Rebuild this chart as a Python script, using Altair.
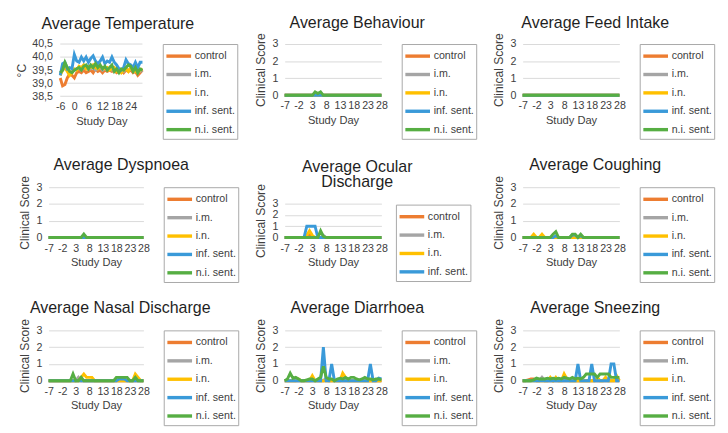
import altair as alt
import pandas as pd

FONT = "Liberation Sans"
SERIES = ["control", "i.m.", "i.n.", "inf. sent.", "n.i. sent."]
COLORS = ["#ED7D31", "#A5A5A5", "#FFC000", "#3A9AD9", "#56AE43"]

TEMP_DAYS = list(range(-6, 30))
SCORE_DAYS = list(range(-7, 29))
TEMP_XTICKS = [-6, 0, 6, 12, 18, 24]
SCORE_XTICKS = [-7, -2, 3, 8, 13, 18, 23, 28]
TEMP_YTICKS = [38.5, 39.0, 39.5, 40.0, 40.5]
SCORE_YTICKS = [0, 1, 2, 3]

# ---------------- Temperature (days -6 .. 29) ----------------
temp_control = [39.2, 38.9, 38.95, 39.2, 39.35, 39.3, 39.2, 39.4, 39.45, 39.4, 39.5, 39.4,
                39.45, 39.5, 39.4, 39.55, 39.45, 39.5, 39.4, 39.5, 39.45, 39.5, 39.45, 39.5,
                39.4, 39.45, 39.5, 39.4, 39.5, 39.45, 39.5, 39.4, 39.45, 39.3, 39.4, 39.5]
temp_im = [39.35, 39.55, 39.6, 39.5, 39.4, 39.45, 39.5, 39.55, 39.6, 39.5, 39.6, 39.55,
           39.6, 39.55, 39.6, 39.5, 39.55, 39.6, 39.5, 39.55, 39.5, 39.55, 39.5, 39.55,
           39.5, 39.45, 39.5, 39.45, 39.55, 39.5, 39.55, 39.5, 39.45, 39.5, 39.45, 39.5]
temp_in = [39.3, 39.5, 39.6, 39.45, 39.3, 39.4, 39.55, 39.5, 39.65, 39.6, 39.7, 39.55,
           39.65, 39.6, 39.7, 39.6, 39.55, 39.65, 39.6, 39.55, 39.6, 39.5, 39.55, 39.6,
           39.45, 39.5, 39.4, 39.5, 39.55, 39.45, 39.6, 39.5, 39.45, 39.4, 39.5, 39.55]
temp_inf = [39.3, 39.75, 39.8, 39.55, 39.6, 39.55, 40.1, 39.85, 39.8, 40.0, 39.85, 40.0,
            39.8, 39.95, 40.05, 39.85, 39.75, 39.85, 40.0, 39.75, 39.85, 39.8, 40.0, 39.8,
            39.7, 39.55, 39.5, 39.6, 39.9, 39.75, 39.7, 39.6, 39.8, 39.6, 39.8, 39.8]
temp_ni = [39.4, 39.5, 39.8, 39.6, 39.45, 39.4, 39.5, 39.55, 39.6, 39.5, 39.65, 39.7,
           39.55, 39.7, 39.6, 39.75, 39.6, 39.7, 39.55, 39.65, 39.5, 39.6, 39.7, 39.45,
           39.55, 39.4, 39.55, 39.5, 39.6, 39.7, 39.65, 39.45, 39.6, 39.4, 39.55, 39.5]

# ---------------- Clinical scores (days -7 .. 28) ----------------
# rows of 9: days -7..1 | 2..10 | 11..19 | 20..28
beh_control = [0, 0, 0, 0, 0, 0, 0, 0, 0,  0, 0, 0, 0, 0, 0, 0, 0, 0,  0, 0, 0, 0, 0, 0, 0, 0, 0,  0, 0, 0, 0, 0, 0, 0, 0, 0]
beh_im = [0, 0, 0, 0, 0, 0, 0, 0, 0,  0, 0, 0, 0, 0, 0, 0, 0, 0,  0, 0, 0, 0, 0, 0, 0, 0, 0,  0, 0, 0, 0, 0, 0, 0, 0, 0]
beh_in = [0, 0, 0, 0, 0, 0, 0, 0, 0,  0, 0, 0, 0, 0, 0, 0, 0, 0,  0, 0, 0, 0, 0, 0, 0, 0, 0,  0, 0, 0, 0, 0, 0, 0, 0, 0]
beh_inf = [0, 0, 0, 0, 0, 0, 0, 0, 0,  0, 0, 0, 0, 0, 0, 0, 0, 0,  0, 0, 0, 0, 0, 0, 0, 0, 0,  0, 0, 0, 0, 0, 0, 0, 0, 0]
beh_ni = [0, 0, 0, 0, 0, 0, 0, 0, 0,  0, 0, 0.2, 0.1, 0.2, 0, 0, 0, 0,  0, 0, 0, 0, 0, 0, 0, 0, 0,  0, 0, 0, 0, 0, 0, 0, 0, 0]

feed_control = [0, 0, 0, 0, 0, 0, 0, 0, 0,  0, 0, 0, 0, 0, 0, 0, 0, 0,  0, 0, 0, 0, 0, 0, 0, 0, 0,  0, 0, 0, 0, 0, 0, 0, 0, 0]
feed_im = [0, 0, 0, 0, 0, 0, 0, 0, 0,  0, 0, 0, 0, 0, 0, 0, 0, 0,  0, 0, 0, 0, 0, 0, 0, 0, 0,  0, 0, 0, 0, 0, 0, 0, 0, 0]
feed_in = [0, 0, 0, 0, 0, 0, 0, 0, 0,  0, 0, 0, 0, 0, 0, 0, 0, 0,  0, 0, 0, 0, 0, 0, 0, 0, 0,  0, 0, 0, 0, 0, 0, 0, 0, 0]
feed_inf = [0, 0, 0, 0, 0, 0, 0, 0, 0,  0, 0, 0, 0, 0, 0, 0, 0, 0,  0, 0, 0, 0, 0, 0, 0, 0, 0,  0, 0, 0, 0, 0, 0, 0, 0, 0]
feed_ni = [0, 0, 0, 0, 0, 0, 0, 0, 0,  0, 0, 0, 0, 0, 0, 0, 0, 0,  0, 0, 0, 0, 0, 0, 0, 0, 0,  0, 0, 0, 0, 0, 0, 0, 0, 0]

dys_control = [0, 0, 0, 0, 0, 0, 0, 0, 0,  0, 0, 0, 0, 0, 0, 0, 0, 0,  0, 0, 0, 0, 0, 0, 0, 0, 0,  0, 0, 0, 0, 0, 0, 0, 0, 0]
dys_im = [0, 0, 0, 0, 0, 0, 0, 0, 0,  0, 0, 0, 0, 0, 0, 0, 0, 0,  0, 0, 0, 0, 0, 0, 0, 0, 0,  0, 0, 0, 0, 0, 0, 0, 0, 0]
dys_in = [0, 0, 0, 0, 0, 0, 0, 0, 0,  0, 0, 0, 0, 0, 0, 0, 0, 0,  0, 0, 0, 0, 0, 0, 0, 0, 0,  0, 0, 0, 0, 0, 0, 0, 0, 0]
dys_inf = [0, 0, 0, 0, 0, 0, 0, 0, 0,  0, 0, 0, 0, 0, 0, 0, 0, 0,  0, 0, 0, 0, 0, 0, 0, 0, 0,  0, 0, 0, 0, 0, 0, 0, 0, 0]
dys_ni = [0, 0, 0, 0, 0, 0, 0, 0, 0,  0, 0, 0, 0, 0.2, 0, 0, 0, 0,  0, 0, 0, 0, 0, 0, 0, 0, 0,  0, 0, 0, 0, 0, 0, 0, 0, 0]

ocu_control = [0, 0, 0, 0, 0, 0, 0, 0, 0,  0.25, 0, 0, 0, 0, 0, 0, 0, 0,  0, 0, 0, 0, 0, 0, 0, 0, 0,  0, 0, 0, 0, 0, 0, 0, 0, 0]
ocu_im = [0, 0, 0, 0, 0, 0, 0, 0, 0,  0, 0, 0, 0, 0, 0.2, 0, 0, 0,  0, 0, 0, 0, 0, 0, 0, 0, 0,  0, 0, 0, 0, 0, 0, 0, 0, 0]
ocu_in = [0, 0, 0, 0, 0, 0, 0, 0, 0.2,  0.6, 0.2, 0, 0, 0, 0, 0, 0, 0,  0, 0, 0, 0, 0, 0, 0, 0, 0,  0, 0, 0, 0, 0, 0, 0, 0, 0]
ocu_inf = [0, 0, 0, 0, 0, 0, 0, 0, 1.0,  1.0, 1.0, 1.0, 0, 0, 0, 0, 0, 0,  0, 0, 0, 0, 0, 0, 0, 0, 0,  0, 0, 0, 0, 0, 0, 0, 0, 0]
ocu_ni = [0, 0, 0, 0, 0, 0, 0, 0, 0,  0, 0, 0, 0, 0.6, 0.1, 0, 0, 0,  0, 0, 0, 0, 0, 0, 0, 0, 0,  0, 0, 0, 0, 0, 0, 0, 0, 0]

cou_control = [0, 0, 0, 0, 0, 0, 0, 0, 0,  0, 0, 0, 0, 0, 0, 0, 0, 0,  0, 0, 0, 0, 0, 0, 0, 0, 0,  0, 0, 0, 0, 0, 0, 0, 0, 0]
cou_im = [0, 0, 0, 0, 0, 0, 0, 0, 0,  0, 0, 0, 0, 0, 0, 0, 0, 0,  0, 0, 0, 0, 0, 0, 0, 0, 0,  0, 0, 0, 0, 0, 0, 0, 0, 0]
cou_in = [0, 0, 0, 0, 0.2, 0, 0, 0.2, 0,  0, 0, 0, 0, 0, 0, 0, 0, 0,  0, 0, 0, 0, 0, 0, 0, 0, 0,  0, 0, 0, 0, 0, 0, 0, 0, 0]
cou_inf = [0, 0, 0, 0, 0, 0, 0, 0, 0,  0, 0, 0, 0.1, 0, 0, 0, 0, 0,  0.15, 0.15, 0, 0.1, 0, 0, 0, 0, 0,  0, 0, 0, 0, 0, 0, 0, 0, 0]
cou_ni = [0, 0, 0, 0, 0, 0, 0, 0, 0,  0, 0, 0.2, 0.35, 0, 0, 0, 0, 0,  0.2, 0.2, 0, 0.2, 0, 0, 0, 0, 0,  0, 0, 0, 0, 0, 0, 0, 0, 0]

nas_control = [0, 0, 0, 0, 0, 0, 0, 0, 0,  0, 0, 0, 0, 0, 0, 0, 0, 0,  0, 0, 0, 0, 0, 0, 0, 0, 0,  0, 0, 0, 0, 0, 0, 0, 0, 0]
nas_im = [0, 0, 0, 0, 0, 0, 0, 0, 0,  0, 0, 0.2, 0, 0, 0, 0, 0, 0,  0, 0, 0, 0, 0, 0, 0, 0, 0,  0, 0, 0, 0, 0, 0, 0, 0, 0]
nas_in = [0, 0, 0, 0, 0, 0, 0, 0, 0,  0, 0, 0, 0.2, 0.4, 0.2, 0.2, 0.2, 0,  0, 0, 0, 0, 0, 0, 0, 0, 0,  0, 0, 0, 0, 0, 0.4, 0.2, 0, 0]
nas_inf = [0, 0, 0, 0, 0, 0, 0, 0, 0,  0, 0, 0, 0, 0, 0, 0, 0, 0,  0, 0, 0, 0, 0, 0, 0, 0, 0.1,  0.1, 0.1, 0, 0, 0, 0, 0, 0, 0]
nas_ni = [0, 0, 0, 0, 0, 0, 0, 0, 0,  0.4, 0, 0, 0.2, 0, 0, 0, 0, 0,  0, 0, 0, 0, 0, 0, 0, 0.2, 0.2,  0.2, 0.2, 0.2, 0, 0, 0.2, 0, 0, 0]

dia_control = [0, 0, 0, 0, 0, 0, 0, 0, 0,  0, 0, 0, 0, 0, 0, 0, 0, 0,  0, 0, 0, 0, 0, 0, 0, 0, 0,  0, 0, 0, 0, 0, 0, 0, 0, 0]
dia_im = [0, 0, 0, 0, 0, 0, 0, 0, 0,  0, 0, 0, 0, 0, 0, 0.15, 0, 0,  0, 0, 0, 0, 0, 0, 0, 0, 0,  0, 0, 0, 0, 0, 0, 0, 0, 0]
dia_in = [0, 0, 0, 0, 0, 0.1, 0, 0, 0,  0, 0.3, 0, 0, 0, 0, 0, 0, 0,  0, 0, 0, 0.45, 0.2, 0, 0, 0, 0,  0, 0, 0, 0, 0, 0, 0, 0, 0]
dia_inf = [0, 0, 0, 0, 0, 0, 0, 0, 0,  0, 0, 0, 0, 0, 2.0, 0, 0, 1.0,  0, 0, 0, 0, 0, 0, 0, 0, 0,  0, 0, 0, 0, 1.0, 0, 0, 0.15, 0.1]
dia_ni = [0, 0.1, 0.45, 0.15, 0.2, 0.1, 0, 0, 0.05,  0.1, 0.1, 0, 0.1, 0.2, 0.85, 0.2, 0.1, 0.1,
          0, 0.1, 0.15, 0.1, 0.2, 0.1, 0.2, 0.2, 0.1,  0.05, 0.1, 0.2, 0.1, 0.1, 0.05, 0.1, 0.1, 0.05]

sne_control = [0, 0, 0.05, 0.1, 0.1, 0, 0, 0, 0,  0, 0, 0, 0, 0, 0, 0, 0, 0,  0, 0, 0, 0, 0, 0, 0, 0, 0,  0, 0, 0, 0, 0, 0, 0, 0, 0]
sne_im = [0, 0, 0, 0, 0, 0, 0, 0.2, 0,  0, 0, 0, 0, 0, 0, 0, 0, 0,  0, 0, 0, 0, 0, 0, 0, 0, 0,  0, 0, 0, 0, 0, 0, 0, 0, 0]
sne_in = [0, 0, 0, 0, 0, 0, 0, 0, 0,  0, 0.2, 0, 0.2, 0, 0, 0.4, 0.1, 0,  0, 0, 0, 0, 0, 0, 0, 0, 0,  0.2, 0, 0, 0.2, 0, 0, 0, 0.3, 0]
sne_inf = [0, 0, 0, 0, 0, 0, 0, 0, 0,  0, 0, 0, 0, 0, 0, 0, 0, 0,  0, 0, 1.0, 0, 0, 0, 0, 1.0, 0,  0, 0, 0, 0, 0, 1.0, 1.0, 0, 0]
sne_ni = [0, 0, 0, 0, 0.05, 0.15, 0.1, 0.1, 0.1,  0.15, 0.1, 0.15, 0.1, 0.15, 0.1, 0.2, 0.15, 0.1,
          0.2, 0.1, 0.15, 0.1, 0.2, 0.4, 0.4, 0.4, 0.4,  0.2, 0.4, 0.4, 0.4, 0.4, 0.2, 0.2, 0.2, 0.2]

TXT = "#1F1F1F"
LBL = "#404040"
GRID = "#D9D9D9"


def panel(title, days, series, ydomain, yticks, ytitle, xticks, width, height,
          temp=False, legend_values=None, yrange=None, xrange=None, title_offset=1,
          title_dx=25, legend_y=None):
    rows = []
    for name, vals in zip(SERIES, series):
        for d, v in zip(days, vals):
            rows.append({"day": d, "series": name, "value": v})
    df = pd.DataFrame(rows)

    xaxis = alt.Axis(values=xticks, title="Study Day", grid=False, ticks=False,
                     domain=not temp, domainColor=GRID, labelFontSize=11, titleFontSize=11.5,
                     labelColor=LBL, titleColor=LBL, titleFontWeight="normal",
                     labelPadding=5, titlePadding=4, labelFlush=False, labelOverlap=False,
                     labelFont=FONT, titleFont=FONT, labelExpr="'' + datum.value")
    yargs = dict(values=yticks, title=ytitle, grid=not temp, gridColor=GRID, ticks=False,
                 domain=False, labelFontSize=11, titleFontSize=12.5, labelColor=LBL,
                 titleColor=LBL, titleFontWeight="normal", labelPadding=7, titlePadding=5,
                 labelFont=FONT, titleFont=FONT, labelOverlap=False)
    if temp:
        yargs["labelExpr"] = "replace(format(datum.value, '.1f'), '.', ',')"
        yargs["offset"] = -12
        yargs["labelPadding"] = 8
        yargs["titlePadding"] = 4
    yaxis = alt.Axis(**yargs)
    yscale = dict(domain=ydomain, nice=False, zero=False)
    if yrange is not None:
        yscale["range"] = yrange
    xscale = dict(domain=[days[0], days[-1]], nice=False, zero=False)
    if xrange is not None:
        xscale["range"] = xrange

    largs = dict(title=None, symbolType="M-1.5,0L1.5,0", symbolStrokeWidth=3.5,
                 symbolSize=289, labelFontSize=11, labelFont=FONT, labelColor=LBL,
                 strokeColor="#A6A6A6", padding=2, rowPadding=1, labelOffset=6,
                 symbolOffset=4)
    if legend_values is not None:
        largs["values"] = legend_values
    if legend_y is not None:
        largs["orient"] = "none"
        largs["legendX"] = width + 15
        largs["legendY"] = legend_y
    else:
        largs["orient"] = "right"
        largs["offset"] = 15

    lines = alt.Chart(df).mark_line(strokeWidth=3).encode(
        x=alt.X("day:Q", scale=alt.Scale(**xscale), axis=xaxis),
        y=alt.Y("value:Q", scale=alt.Scale(**yscale), axis=yaxis),
        color=alt.Color("series:N", scale=alt.Scale(domain=SERIES, range=COLORS),
                        legend=alt.Legend(**largs)),
        detail="series:N",
    )
    ttl = alt.TitleParams(title, fontSize=16.5, font=FONT, fontWeight="normal",
                          color=TXT, anchor="middle", frame="group", dx=title_dx,
                          offset=title_offset, lineHeight=16)
    if temp:
        grid_df = pd.DataFrame({"gy": yticks, "gx0": [days[0]] * len(yticks),
                                "gx1": [days[-1]] * len(yticks)})
        grid = alt.Chart(grid_df).mark_rule(color=GRID, strokeWidth=1).encode(
            x=alt.X("gx0:Q", scale=alt.Scale(**xscale), axis=xaxis),
            x2="gx1:Q",
            y=alt.Y("gy:Q", scale=alt.Scale(**yscale), axis=yaxis),
        )
        return alt.layer(grid, lines).properties(width=width, height=height, title=ttl)
    return lines.properties(width=width, height=height, title=ttl)


S = dict(ydomain=[0, 3], yticks=SCORE_YTICKS, ytitle="Clinical Score", xticks=SCORE_XTICKS)

p1 = panel("Average Temperature", TEMP_DAYS,
           [temp_control, temp_im, temp_in, temp_inf, temp_ni],
           [38.5, 40.5], TEMP_YTICKS, "°C", TEMP_XTICKS, 97, 54, temp=True,
           xrange=[12, 97], title_offset=6, title_dx=23)
p2 = panel("Average Behaviour", SCORE_DAYS, [beh_control, beh_im, beh_in, beh_inf, beh_ni],
           width=100, height=53, title_offset=1, **S)
p3 = panel("Average Feed Intake", SCORE_DAYS, [feed_control, feed_im, feed_in, feed_inf, feed_ni],
           width=100, height=53, title_offset=1, **S)
p4 = panel("Average Dyspnoea", SCORE_DAYS, [dys_control, dys_im, dys_in, dys_inf, dys_ni],
           width=98, height=52, title_offset=2, title_dx=26, **S)
p5 = panel(["Average Ocular", "Discharge"], SCORE_DAYS,
           [ocu_control, ocu_im, ocu_in, ocu_inf, ocu_ni],
           width=100, height=52, yrange=[52, 17], title_offset=-7,
           legend_values=SERIES[:4], legend_y=18, **S)
p6 = panel("Average Coughing", SCORE_DAYS, [cou_control, cou_im, cou_in, cou_inf, cou_ni],
           width=100, height=52, title_offset=2, **S)
p7 = panel("Average Nasal Discharge", SCORE_DAYS, [nas_control, nas_im, nas_in, nas_inf, nas_ni],
           width=98, height=52, title_offset=2, **S)
p8 = panel("Average Diarrhoea", SCORE_DAYS, [dia_control, dia_im, dia_in, dia_inf, dia_ni],
           width=100, height=52, title_offset=2, **S)
p9 = panel("Average Sneezing", SCORE_DAYS, [sne_control, sne_im, sne_in, sne_inf, sne_ni],
           width=100, height=52, title_offset=2, **S)

chart = alt.concat(
    p1, p2, p3, p4, p5, p6, p7, p8, p9,
    columns=3,
    spacing={"row": 18, "column": 15},
    align={"row": "each", "column": "each"},
).resolve_scale(
    color="independent"
).properties(
    padding={"left": 7, "top": 0, "right": 5, "bottom": 5},
    background="white",
).configure_view(stroke=None)

chart.save("out.html", embed_options={"renderer": "svg", "actions": False})
